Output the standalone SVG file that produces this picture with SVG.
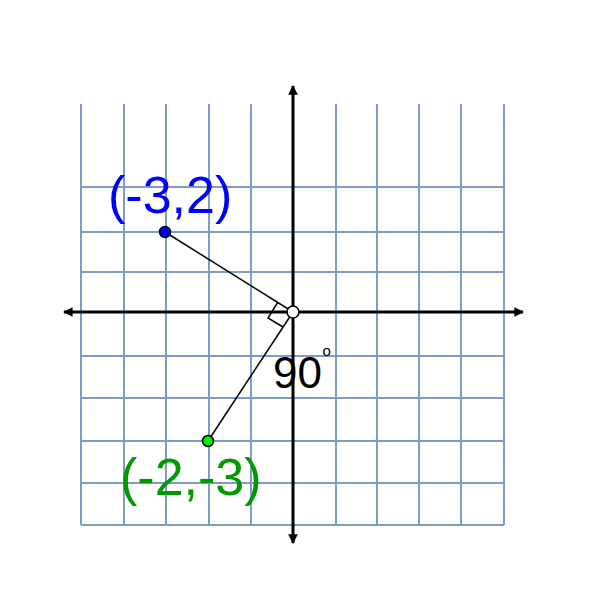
<svg xmlns="http://www.w3.org/2000/svg" width="592" height="613" viewBox="0 0 592 613">
<defs>
<style>
.grid{stroke:#7f9cc5;stroke-width:2;fill:none}
.axis{stroke:#000;stroke-width:3;fill:none}
.seg{stroke:#000;stroke-width:1.5;fill:none}
.lbl{font-family:"Liberation Sans",Arial,sans-serif}
</style>
<marker id="ah" viewBox="0 0 10 10" refX="9" refY="5" markerWidth="3.2" markerHeight="3.2" orient="auto" markerUnits="strokeWidth">
<path d="M0,0 L10,5 L0,10 Z" fill="#000"/>
</marker>
</defs>
<rect width="592" height="613" fill="#fff"/>
<g id="grid" class="grid">
<path d="M81,104V525 M124,104V525 M166,104V525 M209,104V525 M251,104V525 M336,104V525 M377,104V525 M419,104V525 M461,104V525 M504,104V525"/>
<path d="M81,187H504 M82,232H505 M82,272H505 M82,356H503 M82,398H503 M82,441H503 M82,483H503 M81,525H504"/>
</g>
<g id="axes">
<line class="axis" x1="292" y1="312" x2="64" y2="312" marker-end="url(#ah)"/>
<line class="axis" x1="292" y1="312" x2="523" y2="312" marker-end="url(#ah)"/>
<line class="axis" x1="293" y1="312" x2="293" y2="86" marker-end="url(#ah)"/>
<line class="axis" x1="293" y1="312" x2="293" y2="543" marker-end="url(#ah)"/>
</g>
<g id="connectors">
<line class="seg" x1="165" y1="232" x2="293" y2="312"/>
<line class="seg" x1="208" y1="441" x2="293" y2="312"/>
<path class="seg" d="M277.7,302.5 L268,318 L283,327"/>
</g>
<g id="point-a">
<circle cx="165" cy="232" r="5.5" fill="#0000ff" stroke="#000" stroke-width="1.5"/>
<text class="lbl" x="108" y="213" font-size="52" fill="#0000ff">(-3,2)</text>
</g>
<g id="point-b">
<circle cx="208" cy="441" r="5.5" fill="#00ee00" stroke="#000" stroke-width="1.5"/>
<text class="lbl" x="120" y="495" font-size="52" fill="#009900">(-2,-3)</text>
</g>
<g id="origin">
<circle cx="293" cy="312" r="6" fill="#fff" stroke="#000" stroke-width="1.5"/>
</g>
<g id="angle-label">
<text class="lbl" x="273" y="388" font-size="44" fill="#000">90</text>
<text class="lbl" x="322.5" y="356" font-size="15" fill="#000">o</text>
</g>
</svg>
